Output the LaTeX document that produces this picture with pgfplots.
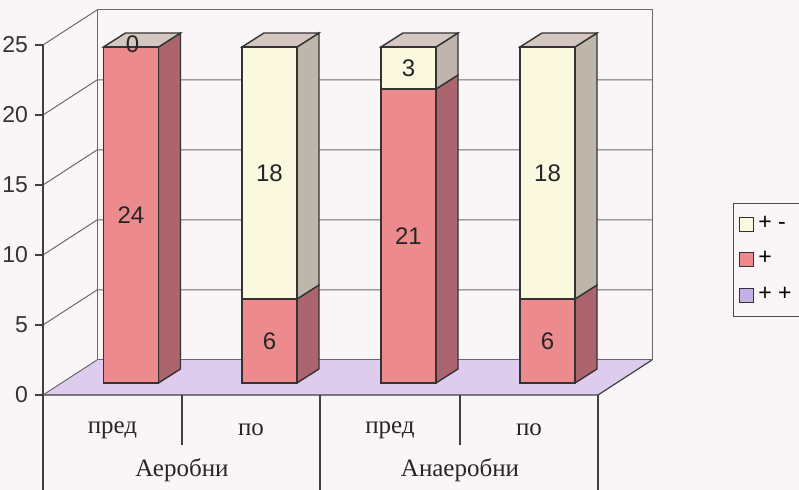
\documentclass[border=0pt]{standalone}
\usepackage{pgfplots}
\pgfplotsset{compat=1.18}
\usepackage{fontspec}
\setmainfont{Liberation Sans}
\newfontfamily\serifcyr{Liberation Serif}
\definecolor{bg}{RGB}{250,246,248}
\definecolor{pinkF}{RGB}{236,138,142}
\definecolor{pinkS}{RGB}{172,100,110}
\definecolor{creamF}{RGB}{251,249,224}
\definecolor{creamS}{RGB}{190,182,170}
\definecolor{topC}{RGB}{212,199,193}
\definecolor{floorC}{RGB}{222,204,238}
\definecolor{lav}{RGB}{196,176,228}
\definecolor{gridc}{RGB}{105,105,105}
\begin{document}
\begin{tikzpicture}
\useasboundingbox (0,0) rectangle (399.5pt,245pt);
\clip (0,0) rectangle (399.5pt,245pt);
\fill[bg] (0,0) rectangle (399.5pt,245pt);
% frame axis
\begin{axis}[at={(21.5pt,47.5pt)}, anchor=south west, scale only axis,
  width=378pt, height=175pt, xmin=43, xmax=799, ymin=0, ymax=25,
  axis x line=none, axis y line=left, axis on top,
  axis line style={-, draw=black!75, line width=0.6pt},
  ytick={0,5,...,25}, tick align=outside, major tick length=4pt,
  tick style={black!75, line width=0.6pt},
  yticklabel style={font=\fontsize{11.5}{12}\selectfont, /pgf/number format/assume math mode=true, text=black!80},
  clip=false,
  legend style={at={(axis cs:733,13.71)}, anchor=north west, draw=black!70, fill=none,
    font=\fontsize{11.5}{13}\selectfont, row sep=5.5pt, inner xsep=3pt, inner ysep=4.5pt},
  legend cell align=left,
  legend image code/.code={\draw[#1,line width=0.5pt] (0pt,-3.5pt) rectangle (7pt,3.5pt);},
]
\fill[floorC] (axis cs:43,0) -- (axis cs:598,0) -- (axis cs:652,2.5) -- (axis cs:97,2.5) -- cycle;
\draw[gridc, line width=0.5pt] (axis cs:97,2.5) rectangle (axis cs:652,27.5);
\draw[gridc, line width=0.5pt] (axis cs:43,25) -- (axis cs:97,27.5);
\draw[gridc, line width=0.5pt] (axis cs:43,5) -- (axis cs:97,7.5) -- (axis cs:652,7.5);
\draw[gridc, line width=0.5pt] (axis cs:43,10) -- (axis cs:97,12.5) -- (axis cs:652,12.5);
\draw[gridc, line width=0.5pt] (axis cs:43,15) -- (axis cs:97,17.5) -- (axis cs:652,17.5);
\draw[gridc, line width=0.5pt] (axis cs:43,20) -- (axis cs:97,22.5) -- (axis cs:652,22.5);
\draw[black!75, line width=0.6pt] (axis cs:43,0) -- (axis cs:598,0) -- (axis cs:652,2.5);
\draw[gridc, line width=0.5pt] (axis cs:43,0) -- (axis cs:97,2.5);
\draw[black!75, line width=0.6pt] (axis cs:43,0) -- (axis cs:43,-7);
\draw[black!75, line width=0.6pt] (axis cs:320,0) -- (axis cs:320,-7);
\draw[black!75, line width=0.6pt] (axis cs:598,0) -- (axis cs:598,-7);
\draw[black!75, line width=0.6pt] (axis cs:182,0) -- (axis cs:182,-3.6);
\draw[black!75, line width=0.6pt] (axis cs:460,0) -- (axis cs:460,-3.6);
\node[font=\serifcyr\fontsize{12.5}{14}\selectfont, text=black!85] at (axis cs:112.5,-2.5) {пред};
\node[font=\serifcyr\fontsize{12.5}{14}\selectfont, text=black!85] at (axis cs:251,-2.5) {по};
\node[font=\serifcyr\fontsize{12.5}{14}\selectfont, text=black!85] at (axis cs:390,-2.5) {пред};
\node[font=\serifcyr\fontsize{12.5}{14}\selectfont, text=black!85] at (axis cs:529,-2.5) {по};
\node[font=\serifcyr\fontsize{12.5}{14}\selectfont, text=black!85] at (axis cs:182,-5.4) {Аеробни};
\node[font=\serifcyr\fontsize{12.5}{14}\selectfont, text=black!85] at (axis cs:460,-5.4) {Анаеробни};
\addlegendimage{fill=creamF, draw=black!80}
\addlegendentry{+ -}
\addlegendimage{fill=pinkF, draw=black!80}
\addlegendentry{+}
\addlegendimage{fill=lav, draw=black!80}
\addlegendentry{+ +}
\end{axis}
% side and top faces
\begin{axis}[at={(30.75pt,53.5pt)}, anchor=south west, scale only axis,
  width=378pt, height=175pt, xmin=43, xmax=799, ymin=0, ymax=25,
  hide axis, clip=false]
\addplot[fill=pinkS, draw=black!80, line width=0.7pt] coordinates {(140,0) (162,1) (162,25) (140,24)} -- cycle;
\addplot[fill=topC, draw=black!80, line width=0.7pt] coordinates {(85,24) (107,25) (162,25) (140,24)} -- cycle;
\addplot[fill=pinkS, draw=black!80, line width=0.7pt] coordinates {(278.5,0) (300.5,1) (300.5,7) (278.5,6)} -- cycle;
\addplot[fill=creamS, draw=black!80, line width=0.7pt] coordinates {(278.5,6) (300.5,7) (300.5,25) (278.5,24)} -- cycle;
\addplot[fill=topC, draw=black!80, line width=0.7pt] coordinates {(223.5,24) (245.5,25) (300.5,25) (278.5,24)} -- cycle;
\addplot[fill=pinkS, draw=black!80, line width=0.7pt] coordinates {(417.5,0) (439.5,1) (439.5,22) (417.5,21)} -- cycle;
\addplot[fill=creamS, draw=black!80, line width=0.7pt] coordinates {(417.5,21) (439.5,22) (439.5,25) (417.5,24)} -- cycle;
\addplot[fill=topC, draw=black!80, line width=0.7pt] coordinates {(362.5,24) (384.5,25) (439.5,25) (417.5,24)} -- cycle;
\addplot[fill=pinkS, draw=black!80, line width=0.7pt] coordinates {(556.5,0) (578.5,1) (578.5,7) (556.5,6)} -- cycle;
\addplot[fill=creamS, draw=black!80, line width=0.7pt] coordinates {(556.5,6) (578.5,7) (578.5,25) (556.5,24)} -- cycle;
\addplot[fill=topC, draw=black!80, line width=0.7pt] coordinates {(501.5,24) (523.5,25) (578.5,25) (556.5,24)} -- cycle;
\end{axis}
% front faces
\begin{axis}[at={(30.75pt,53.5pt)}, anchor=south west, scale only axis,
  width=378pt, height=175pt, xmin=43, xmax=799, ymin=0, ymax=25,
  hide axis, clip=false, ybar stacked, bar width=55]
\addplot[fill=lav, draw=none] coordinates {(112.5,0) (251,0) (390,0) (529,0)};
\addplot[fill=pinkF, draw=black!80, line width=0.7pt] coordinates {(112.5,24) (251,6) (390,21) (529,6)};
\addplot[fill=creamF, draw=black!80, line width=0.7pt] coordinates {(112.5,0) (251,18) (390,3) (529,18)};
\end{axis}
% value labels
\begin{axis}[at={(30.75pt,53.5pt)}, anchor=south west, scale only axis,
  width=378pt, height=175pt, xmin=43, xmax=799, ymin=0, ymax=25,
  hide axis, clip=false]
\node[font=\fontsize{12}{12}\selectfont, text=black!85] at (axis cs:114,24.2) {0};
\node[font=\fontsize{12}{12}\selectfont, text=black!85] at (axis cs:112.5,12) {24};
\node[font=\fontsize{12}{12}\selectfont, text=black!85] at (axis cs:251,3) {6};
\node[font=\fontsize{12}{12}\selectfont, text=black!85] at (axis cs:251,15) {18};
\node[font=\fontsize{12}{12}\selectfont, text=black!85] at (axis cs:390,10.5) {21};
\node[font=\fontsize{12}{12}\selectfont, text=black!85] at (axis cs:390,22.5) {3};
\node[font=\fontsize{12}{12}\selectfont, text=black!85] at (axis cs:529,3) {6};
\node[font=\fontsize{12}{12}\selectfont, text=black!85] at (axis cs:529,15) {18};
\end{axis}
\end{tikzpicture}
\end{document}
